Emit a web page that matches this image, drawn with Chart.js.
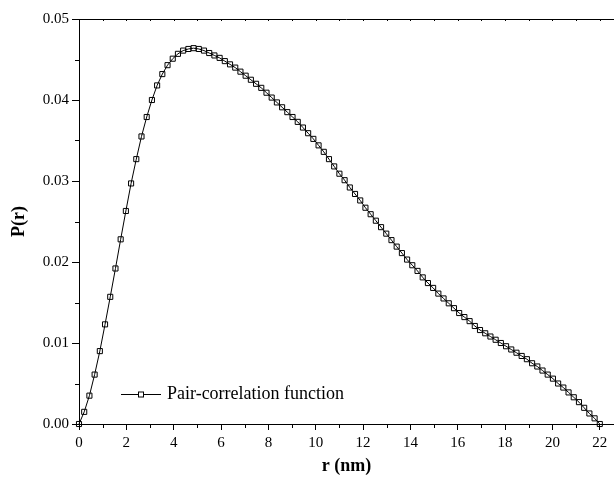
<!DOCTYPE html>
<html>
<head>
<meta charset="utf-8">
<script src="https://cdn.jsdelivr.net/npm/chart.js@4.4.0/dist/chart.umd.min.js"></script>
<style>
  html, body { margin: 0; padding: 0; background: #fff; }
  #wrap { width: 614px; height: 484px; }
</style>
</head>
<body>
<div id="wrap"><canvas id="chartPr" width="614" height="484"></canvas></div>
<script>
// r in nm, step
const rValues = [
  0, 0.22, 0.44, 0.66, 0.88, 1.1, 1.32, 1.54, 1.76, 1.98,
  2.2, 2.42, 2.64, 2.86, 3.08, 3.3, 3.52, 3.74, 3.96, 4.18,
  4.4, 4.62, 4.84, 5.06, 5.28, 5.5, 5.72, 5.94, 6.16, 6.38,
  6.6, 6.82, 7.04, 7.26, 7.48, 7.7, 7.92, 8.14, 8.36, 8.58,
  8.8, 9.02, 9.24, 9.46, 9.68, 9.9, 10.12, 10.34, 10.56, 10.78,
  11, 11.22, 11.44, 11.66, 11.88, 12.1, 12.32, 12.54, 12.76, 12.98,
  13.2, 13.42, 13.64, 13.86, 14.08, 14.3, 14.52, 14.74, 14.96, 15.18,
  15.4, 15.62, 15.84, 16.06, 16.28, 16.5, 16.72, 16.94, 17.16, 17.38,
  17.6, 17.82, 18.04, 18.26, 18.48, 18.7, 18.92, 19.14, 19.36, 19.58,
  19.8, 20.02, 20.24, 20.46, 20.68, 20.9, 21.12, 21.34, 21.56, 21.78,
  22
];
const pValues = [
  0, 0.0015, 0.0035, 0.0061, 0.0090, 0.0123, 0.0157, 0.0192, 0.0228, 0.0263,
  0.0297, 0.0327, 0.0355, 0.0379, 0.0400, 0.0418, 0.0432, 0.0443, 0.0451, 0.0457,
  0.0461, 0.0463, 0.0464, 0.0463, 0.0461, 0.0458, 0.0455, 0.0452, 0.0448, 0.0444,
  0.0440, 0.0435, 0.0430, 0.0425, 0.0420, 0.0415, 0.0409, 0.0403, 0.0397, 0.0391,
  0.0385, 0.0379, 0.0373, 0.0366, 0.0359, 0.0352, 0.0344, 0.0336, 0.0327, 0.0318,
  0.0309, 0.0301, 0.0292, 0.0284, 0.0276, 0.0267, 0.0259, 0.0251, 0.0243, 0.0235,
  0.0227, 0.0219, 0.0211, 0.0203, 0.0196, 0.0189, 0.0181, 0.0174, 0.0168, 0.0161,
  0.0155, 0.0149, 0.0143, 0.0137, 0.0132, 0.0127, 0.0121, 0.0116, 0.0112, 0.0108,
  0.0104, 0.0100, 0.0096, 0.0092, 0.0088, 0.0084, 0.0080, 0.0075, 0.0071, 0.0066,
  0.0061, 0.0056, 0.0050, 0.0045, 0.0039, 0.0033, 0.0027, 0.0020, 0.0013, 0.0007,
  0
];
const xTicks = [0, 2, 4, 6, 8, 10, 12, 14, 16, 18, 20, 22];
const xMinor = [1, 3, 5, 7, 9, 11, 13, 15, 17, 19, 21];
const yTicks = [0, 0.01, 0.02, 0.03, 0.04, 0.05];
const yMinor = [0.005, 0.015, 0.025, 0.035, 0.045];
const seriesName = 'Pair-correlation function';

const serif = '"Liberation Serif", "Times New Roman", serif';

// minor ticks, top frame line and the legend (Origin style)
const frame = {
  id: 'frame',
  afterDraw: chart => {
    const ctx = chart.ctx;
    const { left, right, top, bottom } = chart.chartArea;
    const xs = chart.scales.x, ys = chart.scales.y;
    ctx.save();
    ctx.strokeStyle = '#000';
    ctx.lineWidth = 1;
    ctx.beginPath();
    xMinor.forEach(v => {
      const px = Math.round(xs.getPixelForValue(v)) + 0.5;
      ctx.moveTo(px, bottom); ctx.lineTo(px, bottom + 4);
    });
    yMinor.forEach(v => {
      const py = Math.round(ys.getPixelForValue(v)) + 0.5;
      ctx.moveTo(left - 4, py); ctx.lineTo(left, py);
    });
    // top frame
    ctx.moveTo(left, top + 0.5); ctx.lineTo(right, top + 0.5);
    xTicks.concat(xMinor).forEach(v => {
      const px = Math.round(xs.getPixelForValue(v)) + 0.5;
      ctx.moveTo(px, top); ctx.lineTo(px, top + 2);
    });
    ctx.stroke();

    // legend
    const ly = 394.5;
    ctx.beginPath();
    ctx.moveTo(121, ly); ctx.lineTo(161, ly);
    ctx.stroke();
    ctx.fillStyle = '#fff';
    ctx.fillRect(138.5, ly - 2.5, 5, 5);
    ctx.strokeRect(138.5, ly - 2.5, 5, 5);
    ctx.fillStyle = '#000';
    ctx.font = '18px ' + serif;
    ctx.textBaseline = 'middle';
    ctx.fillText(chart.data.datasets[0].label, 167, ly);
    ctx.restore();
  }
};

const chartPr = new Chart(document.getElementById('chartPr'), {
  type: 'line',
  plugins: [frame],
  data: {
    datasets: [{
      label: seriesName,
      data: rValues.map((r, i) => ({ x: r, y: pValues[i] })),
      borderColor: '#000',
      borderWidth: 1,
      pointStyle: 'rect',
      pointRadius: 3.6,
      pointBorderWidth: 1,
      pointBorderColor: '#000',
      pointBackgroundColor: 'rgba(255,255,255,0)',
      tension: 0,
      clip: false
    }]
  },
  options: {
    responsive: false,
    animation: false,
    events: [],
    layout: { autoPadding: false, padding: { top: 19, right: 0, left: 0, bottom: 0 } },
    plugins: { legend: { display: false }, tooltip: { enabled: false } },
    scales: {
      x: {
        type: 'linear',
        min: 0,
        max: 22.6,
        afterBuildTicks: scale => { scale.ticks = xTicks.map(v => ({ value: v })); },
        afterFit: scale => { scale.height = 60; scale.paddingLeft = 0; scale.paddingRight = 0; },
        grid: { drawOnChartArea: false, drawTicks: true, tickLength: 6, color: '#000' },
        border: { display: true, color: '#000', width: 1 },
        ticks: {
          color: '#000',
          padding: 4,
          maxRotation: 0,
          font: { family: serif, size: 15 },
          callback: v => String(v)
        },
        title: {
          display: true,
          text: 'r (nm)',
          color: '#000',
          padding: { top: 7, bottom: 7 },
          font: { family: serif, size: 18, weight: 'bold' }
        }
      },
      y: {
        type: 'linear',
        min: 0,
        max: 0.05,
        afterBuildTicks: scale => { scale.ticks = yTicks.map(v => ({ value: v })); },
        afterFit: scale => { scale.width = 79; scale.paddingTop = 0; scale.paddingBottom = 0; },
        grid: { drawOnChartArea: false, drawTicks: true, tickLength: 7, color: '#000' },
        border: { display: true, color: '#000', width: 1 },
        ticks: {
          color: '#000',
          padding: 3,
          font: { family: serif, size: 15 },
          callback: v => v.toFixed(2)
        },
        title: {
          display: true,
          text: 'P(r)',
          color: '#000',
          padding: { top: 9, bottom: 9 },
          font: { family: serif, size: 18, weight: 'bold' }
        }
      }
    }
  }
});
</script>
</body>
</html>
